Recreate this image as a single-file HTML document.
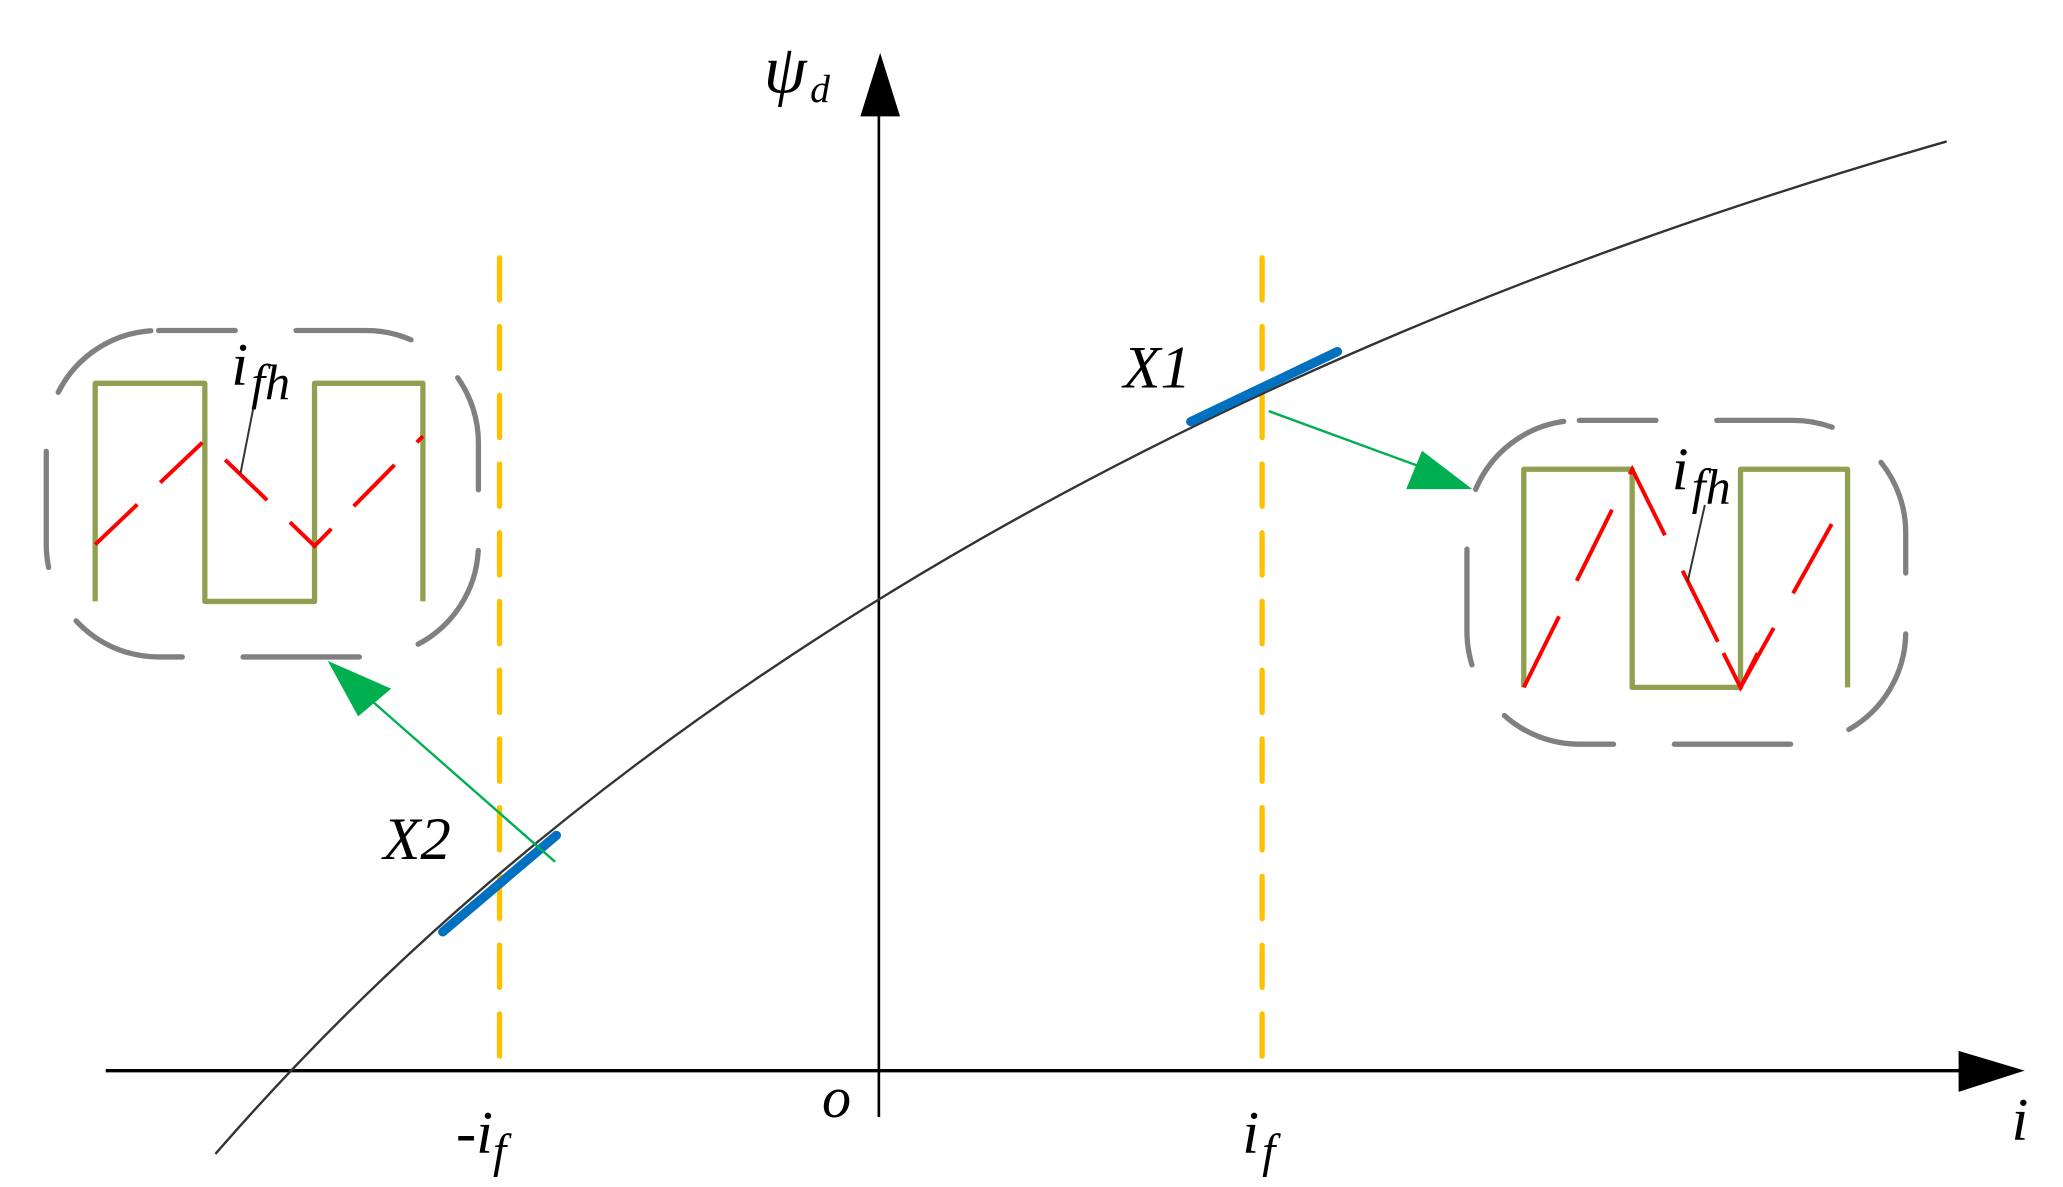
<!DOCTYPE html>
<html><head><meta charset="utf-8"><style>
html,body{margin:0;padding:0;background:#fff;overflow:hidden}
svg{display:block}
text{font-family:"Liberation Serif","Times New Roman",serif;font-style:italic;fill:#000}
</style></head><body>
<svg width="2063" height="1187" viewBox="0 0 1561 898" preserveAspectRatio="none">
<line x1="80" y1="810" x2="1490" y2="810" stroke="#000" stroke-width="2.5"/>
<polygon points="1482,795 1532,810 1482,826" fill="#000"/>
<line x1="665" y1="845" x2="665" y2="85" stroke="#000" stroke-width="2"/>
<polygon points="651,88 666,40 681,88" fill="#000"/>
<line x1="378" y1="195" x2="378" y2="803" stroke="#FFC000" stroke-width="4" stroke-dasharray="32,20" stroke-linecap="round"/>
<line x1="955" y1="195" x2="955" y2="803" stroke="#FFC000" stroke-width="4" stroke-dasharray="32,20" stroke-linecap="round"/>
<path d="M163,873 C400,600 800,300 1473,107" fill="none" stroke="#333" stroke-width="1.8"/>
<line x1="335" y1="705" x2="421" y2="632" stroke="#0070C0" stroke-width="7" stroke-linecap="round"/>
<line x1="901" y1="319" x2="1012" y2="266" stroke="#0070C0" stroke-width="7" stroke-linecap="round"/>
<line x1="420" y1="652" x2="272" y2="522" stroke="#00B050" stroke-width="1.8"/>
<polygon points="248,500 296,521 271,542" fill="#00B050"/>
<line x1="960" y1="311" x2="1080" y2="355" stroke="#00B050" stroke-width="1.8"/>
<polygon points="1114,370 1064,370 1076,341" fill="#00B050"/>
<rect x="35" y="250" width="327" height="247" rx="85" ry="85" fill="none" stroke="#808080" stroke-width="4" stroke-dasharray="88,46" stroke-dashoffset="30" stroke-linecap="round"/>
<path d="M72,455 V290 H155 V455 H238 V290 H320 V455" fill="none" stroke="#8FA050" stroke-width="4" stroke-linejoin="round"/>
<polyline points="72,412 155,333 238,413 320,330" fill="none" stroke="#FF0000" stroke-width="3" stroke-dasharray="44,24"/>
<line x1="193" y1="302" x2="182" y2="358" stroke="#333" stroke-width="1.5"/>
<text x="175" y="291" font-size="46">i</text><text x="190" y="302" font-size="38">fh</text>
<rect x="1110" y="318" width="332" height="245" rx="85" ry="85" fill="none" stroke="#808080" stroke-width="4" stroke-dasharray="88,46" stroke-dashoffset="30" stroke-linecap="round"/>
<path d="M1153,520 V355 H1235 V520 H1317 V355 H1398 V520" fill="none" stroke="#8FA050" stroke-width="4" stroke-linejoin="round"/>
<polyline points="1153,520 1235,355 1317,520 1398,375" fill="none" stroke="#FF0000" stroke-width="3" stroke-dasharray="60,30"/>
<polyline points="1304,494 1317,520 1330,494" fill="none" stroke="#FF0000" stroke-width="3"/>
<line x1="1290" y1="382" x2="1277" y2="440" stroke="#333" stroke-width="1.5"/>
<text x="1265" y="370" font-size="46">i</text><text x="1280" y="381" font-size="38">fh</text>
<text x="578" y="70" font-size="52">ψ</text><text x="613" y="77" font-size="30">d</text>
<text x="850" y="293" font-size="46">X1</text>
<text x="290" y="650" font-size="46">X2</text>
<text x="345" y="872" font-size="46">-i</text><text x="373" y="883" font-size="36">f</text>
<text x="622" y="845" font-size="44">o</text>
<text x="940" y="872" font-size="46">i</text><text x="955" y="883" font-size="36">f</text>
<text x="1522" y="862" font-size="46">i</text>
</svg>
</body></html>
